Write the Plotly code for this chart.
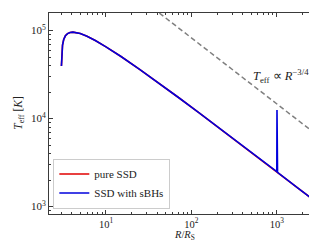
import plotly.graph_objects as go

# ---- data ----
R_ssd = [3.01, 3.03, 3.06, 3.1, 3.2, 3.35, 3.55, 3.8, 4.1, 4.5, 5, 6, 7.5, 10, 15, 25, 40, 70,
         120, 200, 350, 600, 990, 1000, 1012, 1020, 1800, 3000]
T_ssd = [3.95e4, 5.18e4, 6.10e4, 6.85e4, 7.90e4, 8.71e4, 9.23e4, 9.51e4, 9.59e4, 9.49e4, 9.23e4,
         8.60e4, 7.70e4, 6.53e4, 5.07e4, 3.60e4, 2.60e4, 1.746e4, 1.184e4, 8153, 5402, 3628,
         2502, 2490, 2465, 2447, 1604, 1096]

R_sbh = [3.01, 3.03, 3.06, 3.1, 3.2, 3.35, 3.55, 3.8, 4.1, 4.5, 5, 6, 7.5, 10, 15, 25, 40, 70,
         120, 200, 350, 600, 990, 1000, 1005, 1012, 1020, 1800, 3000]
T_sbh = [3.95e4, 5.18e4, 6.10e4, 6.85e4, 7.90e4, 8.71e4, 9.23e4, 9.51e4, 9.59e4, 9.49e4, 9.23e4,
         8.60e4, 7.70e4, 6.53e4, 5.07e4, 3.60e4, 2.60e4, 1.746e4, 1.184e4, 8153, 5402, 3628,
         2502, 2490, 1.25e4, 2465, 2447, 1604, 1096]

R_guide = [30, 3000]
T_guide = [2.036e5, 6436]

x_tickvals = [10, 100, 1000]
x_ticktext = ["10<sup>1</sup>", "10<sup>2</sup>", "10<sup>3</sup>"]
y_tickvals = [1e3, 1e4, 1e5]
y_ticktext = ["10<sup>3</sup>", "10<sup>4</sup>", "10<sup>5</sup>"]

x_minor = [m * 10 ** e for e in range(0, 4) for m in range(2, 10)]
y_minor = [m * 10 ** e for e in range(2, 6) for m in range(2, 10)]

FONT = "Liberation Serif"
FRAME = "#3a3a3a"
TXT = "#222222"

fig = go.Figure()
fig.add_trace(go.Scatter(x=R_ssd, y=T_ssd, mode="lines", name="pure SSD",
                         line=dict(color="#e00000", width=1.6)))
fig.add_trace(go.Scatter(x=R_sbh, y=T_sbh, mode="lines", name="SSD with sBHs",
                         line=dict(color="#0000dd", width=1.6)))
fig.add_trace(go.Scatter(x=R_guide, y=T_guide, mode="lines", showlegend=False,
                         line=dict(color="#808080", width=1.5, dash="5px,3px")))

axis_common = dict(
    type="log", showgrid=False, zeroline=False,
    showline=True, linecolor=FRAME, linewidth=1, mirror="ticks",
    ticks="inside", ticklen=4, tickwidth=0.8, tickcolor=FRAME,
    tickfont=dict(family=FONT, size=11, color=TXT),
)

fig.update_xaxes(
    **axis_common,
    range=[0.333, 3.494],
    tickmode="array", tickvals=x_tickvals, ticktext=x_ticktext,
    minor=dict(tickmode="array", tickvals=x_minor, ticks="inside", ticklen=2,
               tickwidth=0.6, tickcolor=FRAME),
)
fig.update_xaxes(tickfont=dict(family=FONT, size=10.5, color=TXT))
fig.update_yaxes(
    **axis_common,
    range=[2.916, 5.199],
    tickmode="array", tickvals=y_tickvals, ticktext=y_ticktext,
    minor=dict(tickmode="array", tickvals=y_minor, ticks="inside", ticklen=2,
               tickwidth=0.6, tickcolor=FRAME),
)

# axis titles
fig.add_annotation(x=0.5, y=-0.105, xref="paper", yref="paper", showarrow=False,
                   xanchor="center", yanchor="middle", borderpad=0,
                   text="<i>R</i>/<i>R</i><sub>S</sub>",
                   font=dict(family=FONT, size=10.5, color=TXT))
fig.add_annotation(x=-0.112, y=0.503, xref="paper", yref="paper", showarrow=False,
                   xanchor="center", yanchor="middle", textangle=-90, borderpad=0,
                   text="<i>T</i><sub>eff</sub> [<i>K</i>]",
                   font=dict(family=FONT, size=11.5, color=TXT))

# guide label
fig.add_annotation(x=3.045, y=4.48, xref="x", yref="y", showarrow=False,
                   text="<i>T</i><sub>eff</sub> ∝ <i>R</i><sup>−3/4</sup>",
                   font=dict(family=FONT, size=12.5, color=TXT))

fig.update_layout(
    width=317, height=241,
    margin=dict(l=41, r=6, t=5, b=35),
    paper_bgcolor="white", plot_bgcolor="white",
    legend=dict(x=0.016, y=0.027, xanchor="left", yanchor="bottom",
                bgcolor="rgba(255,255,255,0.85)", bordercolor="#cccccc", borderwidth=1,
                font=dict(family=FONT, size=11, color=TXT), tracegroupgap=0),
    showlegend=True,
)

fig.write_html("out.html")
